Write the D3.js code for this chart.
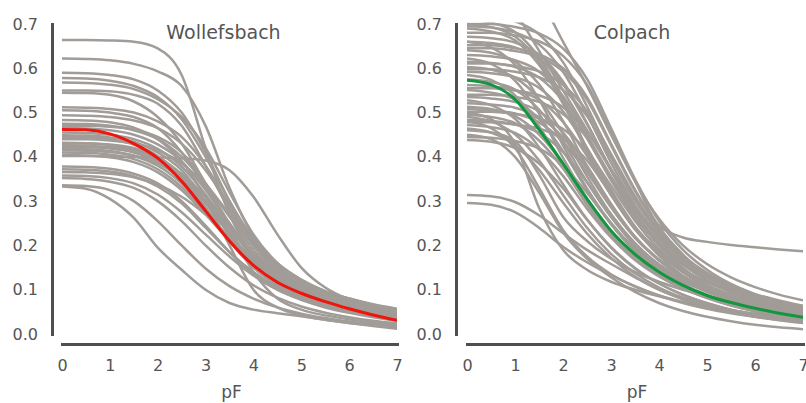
<!DOCTYPE html>
<html>
<head>
<meta charset="utf-8">
<script src="https://cdn.jsdelivr.net/npm/d3@7"></script>
<style>
  html, body { margin: 0; padding: 0; background: #fff; }
  svg { display: block; }
  text { font-family: "DejaVu Sans", sans-serif; fill: #555; }
</style>
</head>
<body>
<svg id="chart" width="806" height="403"></svg>
<script>
// Water retention curves: volumetric water content against pF (log suction)
const pF = [0, 0.5, 1, 1.5, 2, 2.5, 3, 3.5, 4, 4.5, 5, 5.5, 6, 6.5, 7];
const pFTicks = [0, 1, 2, 3, 4, 5, 6, 7];
const thetaTicks = [0, 0.1, 0.2, 0.3, 0.4, 0.5, 0.6, 0.7];
const siteNames = ["Wollefsbach", "Colpach"];

// Individual soil samples, Wollefsbach (water content at each pF above)
const wollefsbachCurves = [
  [0.664,0.664,0.663,0.66,0.645,0.585,0.42,0.27,0.18,0.135,0.105,0.085,0.07,0.06,0.05],
  [0.622,0.621,0.618,0.61,0.593,0.56,0.47,0.33,0.22,0.16,0.122,0.097,0.08,0.067,0.057],
  [0.59,0.589,0.585,0.575,0.55,0.5,0.41,0.3,0.21,0.155,0.12,0.095,0.078,0.065,0.055],
  [0.578,0.577,0.572,0.56,0.535,0.485,0.4,0.3,0.215,0.16,0.123,0.097,0.08,0.066,0.056],
  [0.568,0.567,0.563,0.553,0.53,0.49,0.42,0.32,0.225,0.16,0.12,0.093,0.074,0.06,0.05],
  [0.55,0.55,0.548,0.54,0.52,0.47,0.38,0.28,0.2,0.145,0.11,0.087,0.07,0.058,0.048],
  [0.545,0.544,0.54,0.525,0.49,0.43,0.34,0.25,0.18,0.135,0.105,0.083,0.068,0.056,0.047],
  [0.512,0.511,0.508,0.5,0.48,0.445,0.38,0.29,0.2,0.14,0.1,0.075,0.058,0.046,0.037],
  [0.505,0.504,0.5,0.49,0.465,0.41,0.33,0.245,0.175,0.13,0.1,0.08,0.065,0.053,0.044],
  [0.494,0.493,0.49,0.482,0.465,0.43,0.37,0.29,0.205,0.145,0.105,0.08,0.063,0.05,0.041],
  [0.483,0.482,0.478,0.466,0.44,0.39,0.31,0.23,0.165,0.12,0.09,0.07,0.056,0.045,0.037],
  [0.475,0.474,0.47,0.46,0.44,0.40,0.34,0.27,0.2,0.15,0.115,0.09,0.073,0.06,0.05],
  [0.47,0.47,0.468,0.462,0.445,0.41,0.34,0.24,0.14,0.08,0.055,0.042,0.033,0.026,0.02],
  [0.465,0.464,0.46,0.45,0.428,0.39,0.325,0.25,0.18,0.13,0.097,0.075,0.06,0.049,0.04],
  [0.455,0.454,0.45,0.44,0.418,0.378,0.315,0.24,0.172,0.125,0.093,0.072,0.057,0.046,0.038],
  [0.449,0.448,0.444,0.434,0.41,0.37,0.3,0.225,0.16,0.115,0.085,0.065,0.05,0.04,0.032],
  [0.445,0.444,0.44,0.428,0.402,0.355,0.285,0.21,0.152,0.112,0.085,0.066,0.053,0.043,0.035],
  [0.44,0.44,0.437,0.43,0.415,0.385,0.335,0.265,0.19,0.135,0.1,0.077,0.06,0.048,0.039],
  [0.432,0.431,0.427,0.417,0.395,0.355,0.295,0.225,0.165,0.12,0.09,0.07,0.055,0.045,0.037],
  [0.43,0.43,0.428,0.42,0.40,0.36,0.3,0.2,0.1,0.06,0.042,0.032,0.025,0.02,0.016],
  [0.426,0.425,0.422,0.414,0.396,0.362,0.31,0.245,0.182,0.135,0.102,0.08,0.064,0.052,0.043],
  [0.423,0.422,0.419,0.41,0.39,0.35,0.285,0.21,0.15,0.11,0.082,0.063,0.05,0.04,0.032],
  [0.418,0.417,0.413,0.402,0.38,0.34,0.28,0.215,0.16,0.12,0.093,0.074,0.06,0.05,0.042],
  [0.415,0.414,0.411,0.403,0.385,0.35,0.3,0.24,0.18,0.135,0.105,0.085,0.07,0.058,0.048],
  [0.41,0.409,0.405,0.395,0.372,0.332,0.275,0.21,0.155,0.115,0.088,0.069,0.056,0.046,0.038],
  [0.404,0.403,0.399,0.388,0.365,0.325,0.27,0.21,0.155,0.115,0.088,0.068,0.054,0.043,0.035],
  [0.402,0.402,0.401,0.4,0.399,0.397,0.392,0.37,0.31,0.225,0.15,0.105,0.078,0.062,0.052],
  [0.378,0.377,0.373,0.362,0.34,0.3,0.245,0.185,0.135,0.1,0.077,0.06,0.048,0.038,0.03],
  [0.372,0.371,0.367,0.356,0.333,0.295,0.24,0.185,0.14,0.106,0.083,0.067,0.055,0.045,0.037],
  [0.366,0.365,0.362,0.354,0.337,0.31,0.27,0.22,0.17,0.13,0.1,0.08,0.065,0.053,0.044],
  [0.358,0.357,0.352,0.34,0.315,0.275,0.225,0.175,0.132,0.1,0.078,0.062,0.05,0.041,0.034],
  [0.352,0.35,0.344,0.33,0.3,0.255,0.2,0.15,0.11,0.082,0.062,0.048,0.038,0.03,0.024],
  [0.336,0.334,0.325,0.3,0.255,0.2,0.148,0.108,0.08,0.06,0.046,0.036,0.028,0.022,0.018],
  [0.333,0.328,0.305,0.262,0.195,0.145,0.1,0.07,0.055,0.047,0.04,0.032,0.025,0.018,0.012]
];
const wollefsbachMean = [0.462,0.461,0.452,0.43,0.397,0.345,0.278,0.21,0.155,0.117,0.092,0.073,0.057,0.043,0.031];

// Individual soil samples, Colpach
const colpachCurves = [
  [0.88,0.82,0.73,0.64,0.55,0.46,0.37,0.285,0.215,0.165,0.13,0.105,0.087,0.073,0.063],
  [0.92,0.88,0.82,0.76,0.66,0.56,0.45,0.345,0.245,0.218,0.208,0.201,0.196,0.191,0.187],
  [0.72,0.716,0.706,0.677,0.614,0.514,0.401,0.301,0.230,0.177,0.138,0.109,0.088,0.072,0.059],
  [0.71,0.703,0.682,0.625,0.533,0.419,0.320,0.241,0.185,0.142,0.111,0.088,0.070,0.056,0.045],
  [0.70,0.70,0.693,0.679,0.645,0.576,0.465,0.35,0.255,0.19,0.145,0.113,0.09,0.072,0.059],
  [0.70,0.693,0.672,0.616,0.525,0.413,0.315,0.238,0.182,0.14,0.11,0.087,0.069,0.055,0.045],
  [0.695,0.692,0.681,0.654,0.592,0.496,0.387,0.291,0.222,0.171,0.133,0.106,0.085,0.07,0.057],
  [0.69,0.683,0.663,0.608,0.52,0.411,0.316,0.241,0.187,0.146,0.117,0.094,0.077,0.064,0.054],
  [0.68,0.68,0.674,0.661,0.628,0.563,0.455,0.345,0.26,0.2,0.158,0.128,0.106,0.089,0.076],
  [0.671,0.668,0.658,0.631,0.570,0.476,0.369,0.275,0.208,0.158,0.121,0.094,0.074,0.058,0.046],
  [0.66,0.647,0.608,0.53,0.426,0.329,0.251,0.192,0.150,0.119,0.096,0.078,0.065,0.054,0.045],
  [0.66,0.657,0.647,0.622,0.564,0.474,0.372,0.282,0.218,0.17,0.135,0.11,0.09,0.076,0.064],
  [0.652,0.652,0.645,0.632,0.600,0.535,0.430,0.326,0.241,0.179,0.134,0.101,0.078,0.061,0.047],
  [0.645,0.645,0.639,0.626,0.593,0.529,0.426,0.323,0.239,0.177,0.132,0.1,0.077,0.06,0.046],
  [0.641,0.635,0.615,0.564,0.481,0.378,0.288,0.218,0.167,0.128,0.101,0.079,0.063,0.051,0.041],
  [0.63,0.627,0.618,0.593,0.537,0.450,0.351,0.264,0.202,0.156,0.122,0.097,0.078,0.064,0.053],
  [0.622,0.610,0.572,0.498,0.398,0.305,0.230,0.174,0.134,0.104,0.082,0.065,0.052,0.042,0.034],
  [0.615,0.612,0.603,0.579,0.526,0.442,0.347,0.264,0.204,0.160,0.127,0.103,0.085,0.072,0.061],
  [0.611,0.611,0.605,0.593,0.563,0.503,0.407,0.311,0.232,0.175,0.133,0.103,0.082,0.066,0.053],
  [0.603,0.597,0.579,0.531,0.452,0.356,0.271,0.205,0.157,0.121,0.095,0.075,0.060,0.048,0.039],
  [0.598,0.598,0.592,0.58,0.551,0.492,0.398,0.304,0.228,0.172,0.131,0.101,0.081,0.065,0.052],
  [0.592,0.589,0.580,0.556,0.503,0.420,0.326,0.243,0.184,0.139,0.107,0.083,0.065,0.052,0.041],
  [0.585,0.574,0.539,0.47,0.378,0.292,0.223,0.171,0.134,0.107,0.086,0.070,0.058,0.049,0.041],
  [0.575,0.569,0.552,0.507,0.434,0.343,0.264,0.202,0.157,0.123,0.099,0.08,0.066,0.055,0.046],
  [0.562,0.559,0.551,0.529,0.479,0.402,0.314,0.236,0.181,0.140,0.109,0.087,0.071,0.058,0.048],
  [0.555,0.555,0.55,0.539,0.512,0.459,0.373,0.288,0.218,0.167,0.13,0.103,0.084,0.07,0.059],
  [0.551,0.545,0.529,0.485,0.413,0.325,0.248,0.187,0.143,0.110,0.087,0.068,0.055,0.044,0.035],
  [0.54,0.54,0.535,0.524,0.497,0.443,0.356,0.27,0.2,0.149,0.111,0.084,0.065,0.05,0.039],
  [0.535,0.532,0.524,0.503,0.455,0.38,0.294,0.219,0.166,0.126,0.096,0.075,0.059,0.047,0.037],
  [0.528,0.517,0.486,0.422,0.338,0.259,0.195,0.148,0.114,0.089,0.070,0.055,0.044,0.035,0.029],
  [0.521,0.518,0.511,0.490,0.444,0.373,0.291,0.220,0.168,0.130,0.102,0.082,0.066,0.054,0.045],
  [0.513,0.508,0.492,0.451,0.385,0.303,0.231,0.174,0.133,0.103,0.081,0.064,0.051,0.041,0.033],
  [0.508,0.505,0.498,0.478,0.434,0.365,0.286,0.217,0.168,0.131,0.104,0.084,0.069,0.058,0.049],
  [0.502,0.502,0.497,0.487,0.463,0.413,0.335,0.256,0.192,0.145,0.111,0.086,0.069,0.056,0.045],
  [0.50,0.485,0.43,0.285,0.19,0.145,0.118,0.1,0.085,0.072,0.062,0.053,0.046,0.04,0.035],
  [0.495,0.49,0.476,0.437,0.374,0.296,0.228,0.175,0.136,0.107,0.086,0.07,0.058,0.048,0.041],
  [0.49,0.48,0.451,0.392,0.314,0.240,0.181,0.137,0.105,0.082,0.065,0.051,0.041,0.033,0.026],
  [0.483,0.481,0.473,0.454,0.411,0.343,0.266,0.198,0.150,0.114,0.087,0.068,0.053,0.042,0.033],
  [0.48,0.465,0.42,0.33,0.235,0.175,0.135,0.107,0.087,0.072,0.06,0.051,0.043,0.037,0.032],
  [0.478,0.478,0.473,0.464,0.44,0.392,0.315,0.239,0.177,0.131,0.098,0.074,0.057,0.044,0.034],
  [0.472,0.467,0.454,0.417,0.357,0.283,0.218,0.167,0.130,0.102,0.083,0.067,0.056,0.046,0.040],
  [0.464,0.455,0.427,0.371,0.297,0.227,0.172,0.130,0.100,0.078,0.061,0.049,0.039,0.031,0.025],
  [0.46,0.455,0.435,0.36,0.265,0.21,0.17,0.14,0.118,0.1,0.086,0.074,0.064,0.056,0.05],
  [0.45,0.44,0.4,0.32,0.23,0.17,0.128,0.095,0.07,0.052,0.039,0.029,0.021,0.015,0.011],
  [0.445,0.443,0.436,0.419,0.38,0.319,0.249,0.188,0.145,0.112,0.088,0.071,0.058,0.048,0.04],
  [0.438,0.434,0.420,0.385,0.329,0.258,0.197,0.149,0.114,0.088,0.069,0.054,0.043,0.035,0.028],
  [0.314,0.311,0.298,0.268,0.228,0.19,0.158,0.128,0.1,0.08,0.065,0.054,0.045,0.038,0.032],
  [0.296,0.292,0.275,0.24,0.197,0.162,0.133,0.108,0.087,0.07,0.057,0.047,0.039,0.032,0.027]
];
const colpachMean = [0.573,0.563,0.53,0.462,0.385,0.305,0.233,0.18,0.14,0.11,0.087,0.071,0.058,0.047,0.038];

const svg = d3.select("#chart");

const panels = [
  { name: siteNames[0], curves: wollefsbachCurves, mean: wollefsbachMean, color: "#f0140c",
    left: 62, right: 397, axisX: 52, titleShift: -6 },
  { name: siteNames[1], curves: colpachCurves, mean: colpachMean, color: "#12963e",
    left: 467, right: 803, axisX: 456, titleShift: -3 }
];

const plotTop = 24, plotBottom = 334, xAxisY = 344;
const y = d3.scaleLinear().domain([0, 0.7]).range([plotBottom, plotTop]);
const defs = svg.append("defs");

panels.forEach((p, i) => {
  const x = d3.scaleLinear().domain([0, 7]).range([p.left, p.right]);
  const g = svg.append("g");

  const clipId = "clip" + i;
  defs.append("clipPath").attr("id", clipId)
    .append("rect")
    .attr("x", p.left).attr("y", plotTop - 1.5)
    .attr("width", p.right - p.left).attr("height", plotBottom - plotTop + 20);

  const line = d3.line()
    .x((d, j) => x(pF[j]))
    .y(d => y(d))
    .curve(d3.curveMonotoneX);

  const plot = g.append("g").attr("clip-path", `url(#${clipId})`);

  plot.selectAll("path.sample")
    .data(p.curves)
    .join("path")
    .attr("class", "sample")
    .attr("d", line)
    .attr("fill", "none")
    .attr("stroke", "#a19c97")
    .attr("stroke-width", 2.5);

  plot.append("path")
    .datum(p.mean)
    .attr("d", line)
    .attr("fill", "none")
    .attr("stroke", p.color)
    .attr("stroke-width", 3);

  // y axis
  const yAxis = d3.axisLeft(y)
    .tickValues(thetaTicks)
    .tickFormat(d3.format(".1f"))
    .tickSize(0)
    .tickPadding(14);
  const ya = g.append("g").attr("transform", `translate(${p.axisX},0)`).call(yAxis);
  ya.select(".domain").attr("stroke", "#4f4f4f").attr("stroke-width", 3).attr("stroke-linecap", "square");
  ya.selectAll("text").attr("font-size", 16).attr("font-family", "DejaVu Sans, sans-serif").attr("fill", "#555");

  // x axis
  const xAxis = d3.axisBottom(x)
    .tickValues(pFTicks)
    .tickFormat(d3.format("d"))
    .tickSize(0)
    .tickPadding(16);
  const xa = g.append("g").attr("transform", `translate(0,${xAxisY})`).call(xAxis);
  xa.select(".domain").attr("stroke", "#4f4f4f").attr("stroke-width", 3).attr("stroke-linecap", "square");
  xa.selectAll("text").attr("font-size", 16).attr("font-family", "DejaVu Sans, sans-serif").attr("fill", "#555");

  // axis title
  g.append("text")
    .attr("x", (p.left + p.right) / 2 + 2)
    .attr("y", 398)
    .attr("text-anchor", "middle")
    .attr("font-size", 17)
    .text("pF");

  // panel title
  g.append("text")
    .attr("x", (p.left + p.right) / 2 + p.titleShift)
    .attr("y", 39)
    .attr("text-anchor", "middle")
    .attr("font-size", 19)
    .text(p.name);
});
</script>
</body>
</html>
